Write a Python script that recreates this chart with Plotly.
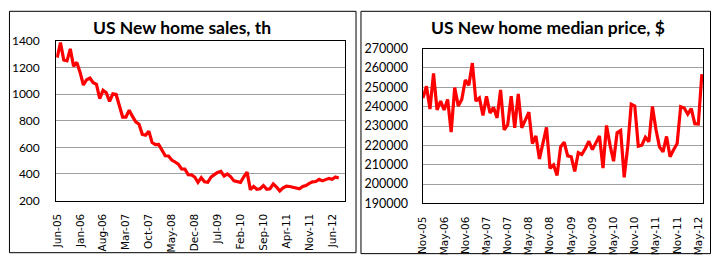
import plotly.graph_objects as go
import pandas as pd

# ---- data ----
sales_months = [d.strftime("%b-%y") for d in pd.date_range("2005-06-01", periods=87, freq="MS")]
sales = [1275, 1389, 1258, 1251, 1341, 1211, 1239, 1164, 1069, 1109,
         1121, 1086, 1074, 967, 1029, 1010, 946, 1003, 998, 911,
         828, 828, 880, 833, 792, 774, 698, 691, 722, 636,
         620, 622, 573, 537, 535, 505, 490, 474, 438, 437,
         395, 393, 377, 337, 372, 341, 337, 377, 395, 412,
         420, 384, 400, 379, 348, 341, 337, 379, 414, 282,
         306, 285, 289, 313, 285, 289, 325, 301, 273, 296,
         308, 306, 301, 296, 289, 306, 313, 329, 341, 343,
         360, 348, 360, 367, 360, 377, 370]
sales_ticks = ["Jun-05", "Jan-06", "Aug-06", "Mar-07", "Oct-07", "May-08", "Dec-08",
               "Jul-09", "Feb-10", "Sep-10", "Apr-11", "Nov-11", "Jun-12"]

price_months = [d.strftime("%b-%y") for d in pd.date_range("2005-11-01", periods=80, freq="MS")]
price = [244500, 250500, 238800, 257100, 238300, 242900, 238300, 243700, 226900, 249800,
         240400, 243700, 253800, 251000, 262500, 242900, 244500, 235500, 245300, 236700,
         239600, 234200, 248600, 228000, 230600, 245400, 229000, 246600, 229000, 233100,
         237200, 220900, 224900, 213000, 220900, 229300, 208100, 209900, 204500, 219200,
         221600, 214600, 214100, 206600, 216200, 215300, 218400, 222100, 217800, 221600,
         224900, 208300, 230300, 220000, 211800, 226500, 227700, 203500, 219200, 241200,
         240300, 219600, 220100, 224200, 221900, 240100, 228200, 219200, 216700, 224600,
         214100, 217700, 221000, 240000, 239300, 236100, 239000, 231200, 231000, 256800]
price_ticks = ["Nov-05", "May-06", "Nov-06", "May-07", "Nov-07", "May-08", "Nov-08",
               "May-09", "Nov-09", "May-10", "Nov-10", "May-11", "Nov-11", "May-12"]

W, H = 713, 263
RED = "#FF0000"
GRID = "#A0A0A0"

def px(x):
    return x / W

def py(y):
    return 1 - y / H

fig = go.Figure()
fig.add_trace(go.Scatter(x=sales_months, y=sales, mode="lines",
                         line=dict(color=RED, width=3.2), xaxis="x", yaxis="y",
                         showlegend=False, hoverinfo="skip"))
fig.add_trace(go.Scatter(x=price_months, y=price, mode="lines",
                         line=dict(color=RED, width=3.2), xaxis="x2", yaxis="y2",
                         showlegend=False, hoverinfo="skip"))

xfont = dict(family="DejaVu Sans", size=10.5, color="#000")
yfont = dict(family="Lato", size=12.5, color="#000")

common_x = dict(type="category", showgrid=False, showline=True, linecolor="#000",
                linewidth=1, mirror=True, tickangle=-90, tickfont=xfont, ticks="",
                zeroline=False, ticklabelstandoff=8)
common_y = dict(showgrid=True, gridcolor=GRID, gridwidth=1, showline=True,
                linecolor="#000", linewidth=1, mirror=True, ticks="",
                zeroline=False, tickfont=yfont)

fig.update_layout(
    width=W, height=H, margin=dict(l=0, r=0, t=0, b=0),
    paper_bgcolor="white", plot_bgcolor="white",
    xaxis=dict(common_x, domain=[px(50.7), px(342)], anchor="y",
               range=[-0.3, 87.8], tickvals=sales_ticks, ticktext=sales_ticks),
    yaxis=dict(common_y, domain=[py(204.2), py(35)], anchor="x",
               range=[200, 1400], dtick=200, ticklabelstandoff=13,
               tickfont=dict(family="Lato", size=12, color="#000")),
    xaxis2=dict(common_x, domain=[px(420.7), px(704)], anchor="y2",
                range=[-0.1, 79.35], tickvals=price_ticks, ticktext=price_ticks),
    yaxis2=dict(common_y, domain=[py(207.3), py(43)], anchor="x2",
                range=[190000, 270000], dtick=10000, ticklabelstandoff=11,
                tickformat="d"),
    annotations=[
        dict(text="<b>US New home sales, th</b>", x=px(178), y=py(20.5), xref="paper",
             yref="paper", showarrow=False, xanchor="center", yanchor="middle",
             font=dict(family="Lato", size=17.5, color="#000")),
        dict(text="<b>US New home median price, $</b>", x=px(547), y=py(20.5), xref="paper",
             yref="paper", showarrow=False, xanchor="center", yanchor="middle",
             font=dict(family="Lato", size=17.5, color="#000")),
    ],
    shapes=[
        dict(type="rect", xref="paper", yref="paper", x0=px(3.5), x1=px(353.5),
             y0=py(259.5), y1=py(3.5), line=dict(color="#000", width=1)),
        dict(type="rect", xref="paper", yref="paper", x0=px(358.5), x1=px(711.5),
             y0=py(260.5), y1=py(3.5), line=dict(color="#000", width=1)),
    ],
)

fig.write_html("out.html")
